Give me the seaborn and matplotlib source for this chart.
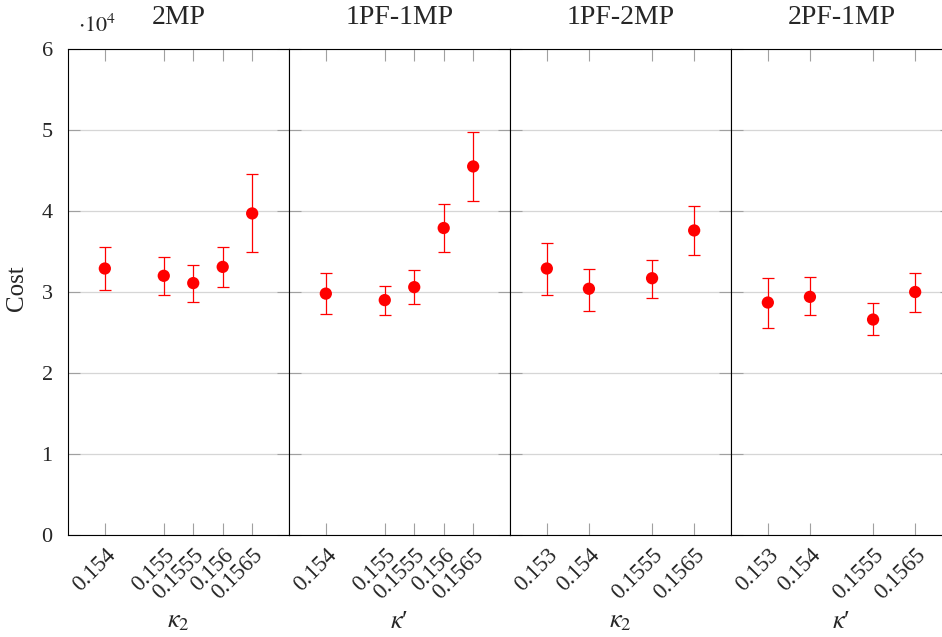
import numpy as np
import pandas as pd
import matplotlib
matplotlib.use("Agg")
import matplotlib.pyplot as plt
import matplotlib.transforms as mtransforms
import seaborn as sns

# ---------------- data (Cost in units of 10^4) ----------------
titles = ["2MP", "1PF-1MP", "1PF-2MP", "2PF-1MP"]
xlabels = [r"$\kappa_2$", r"$\kappa$′", r"$\kappa_2$", r"$\kappa$′"]

x_2mp = [0.154, 0.155, 0.1555, 0.156, 0.1565]
ticks_2mp = ["0.154", "0.155", "0.1555", "0.156", "0.1565"]
mean_2mp = [3.29, 3.20, 3.11, 3.31, 3.97]
upper_2mp = [3.55, 3.43, 3.33, 3.56, 4.46]
lower_2mp = [3.03, 2.96, 2.88, 3.06, 3.49]

x_1pf1mp = [0.154, 0.155, 0.1555, 0.156, 0.1565]
ticks_1pf1mp = ["0.154", "0.155", "0.1555", "0.156", "0.1565"]
mean_1pf1mp = [2.98, 2.90, 3.06, 3.79, 4.55]
upper_1pf1mp = [3.24, 3.08, 3.27, 4.09, 4.98]
lower_1pf1mp = [2.73, 2.72, 2.85, 3.49, 4.12]

x_1pf2mp = [0.153, 0.154, 0.1555, 0.1565]
ticks_1pf2mp = ["0.153", "0.154", "0.1555", "0.1565"]
mean_1pf2mp = [3.29, 3.04, 3.17, 3.76]
upper_1pf2mp = [3.61, 3.29, 3.40, 4.06]
lower_1pf2mp = [2.96, 2.77, 2.93, 3.46]

x_2pf1mp = [0.153, 0.154, 0.1555, 0.1565]
ticks_2pf1mp = ["0.153", "0.154", "0.1555", "0.1565"]
mean_2pf1mp = [2.87, 2.94, 2.66, 3.00]
upper_2pf1mp = [3.17, 3.18, 2.86, 3.24]
lower_2pf1mp = [2.56, 2.71, 2.47, 2.75]

panels = [
    (x_2mp, ticks_2mp, mean_2mp, upper_2mp, lower_2mp),
    (x_1pf1mp, ticks_1pf1mp, mean_1pf1mp, upper_1pf1mp, lower_1pf1mp),
    (x_1pf2mp, ticks_1pf2mp, mean_1pf2mp, upper_1pf2mp, lower_1pf2mp),
    (x_2pf1mp, ticks_2pf1mp, mean_2pf1mp, upper_2pf1mp, lower_2pf1mp),
]
y_ticks = [0, 1, 2, 3, 4, 5, 6]

# ---------------- style ----------------
sns.set_theme(style="white")
plt.rcParams["font.family"] = ["Liberation Serif", "DejaVu Serif"]
plt.rcParams["mathtext.fontset"] = "stix"

W, H = 942, 637
fig = plt.figure(figsize=(W / 100, H / 100), dpi=100)

left_px, top_px, bot_px, pw_px = 68, 49, 535, 221
tick_gray = "#a0a0a0"
grid_gray = "#d6d6d6"

axes = []
for i, (xs, tlabels, m, up, lo) in enumerate(panels):
    ax = fig.add_axes([(left_px + i * pw_px) / W, 1 - bot_px / H,
                       pw_px / W, (bot_px - top_px) / H])
    axes.append(ax)
    df = pd.DataFrame({"x": xs, "y": m})
    m_arr = np.array(m)
    yerr = np.vstack([m_arr - np.array(lo), np.array(up) - m_arr])
    ax.errorbar(xs, m, yerr=yerr, fmt="none", ecolor="red", elinewidth=0.9,
                capsize=4.3, capthick=0.9, zorder=3)
    sns.scatterplot(data=df, x="x", y="y", ax=ax, color="red", s=78,
                    edgecolor="none", zorder=4, legend=False)

    r = max(xs) - min(xs)
    ax.set_xlim(min(xs) - 0.25 * r, max(xs) + 0.25 * r)
    ax.set_ylim(0, 6)
    ax.set_yticks(y_ticks)
    ax.yaxis.grid(True, color=grid_gray, linewidth=0.9)
    ax.set_axisbelow(True)
    ax.set_xticks(xs)
    ax.set_xticklabels(tlabels, rotation=45, ha="right", va="top",
                       rotation_mode="anchor", fontsize=16.5)
    for lab in ax.get_xticklabels():
        lab.set_transform(lab.get_transform() +
                          mtransforms.ScaledTranslation(8 / 100, 0, fig.dpi_scale_trans))
    ax.tick_params(axis="x", which="both", direction="in", length=8.5,
                   width=0.8, color=tick_gray, top=True, bottom=True, pad=7)
    ax.tick_params(axis="y", which="both", direction="in", length=8.5,
                   width=0.8, color=tick_gray, left=True, right=True,
                   labelsize=16, pad=11)
    if i > 0:
        ax.tick_params(axis="y", labelleft=False)
    for sp in ax.spines.values():
        sp.set_color("black")
        sp.set_linewidth(0.8)
    ax.set_ylabel("")
    ax.set_xlabel(xlabels[i], fontsize=19)
    ax.xaxis.label.set_va("center")
    ax.xaxis.set_label_coords(0.5, -(622 - bot_px) / (bot_px - top_px))
    ax.set_title(titles[i], fontsize=20, pad=18)

fig.text(17 / W, 1 - 288 / H, "Cost", rotation=90, ha="center", va="center",
         fontsize=18)
axes[0].text((78 - left_px) / pw_px, 1 + (top_px - 32) / (bot_px - top_px),
             r"$\cdot 10^{4}$", transform=axes[0].transAxes, ha="left",
             va="baseline", fontsize=16)

fig.savefig("out.png", dpi=100)
